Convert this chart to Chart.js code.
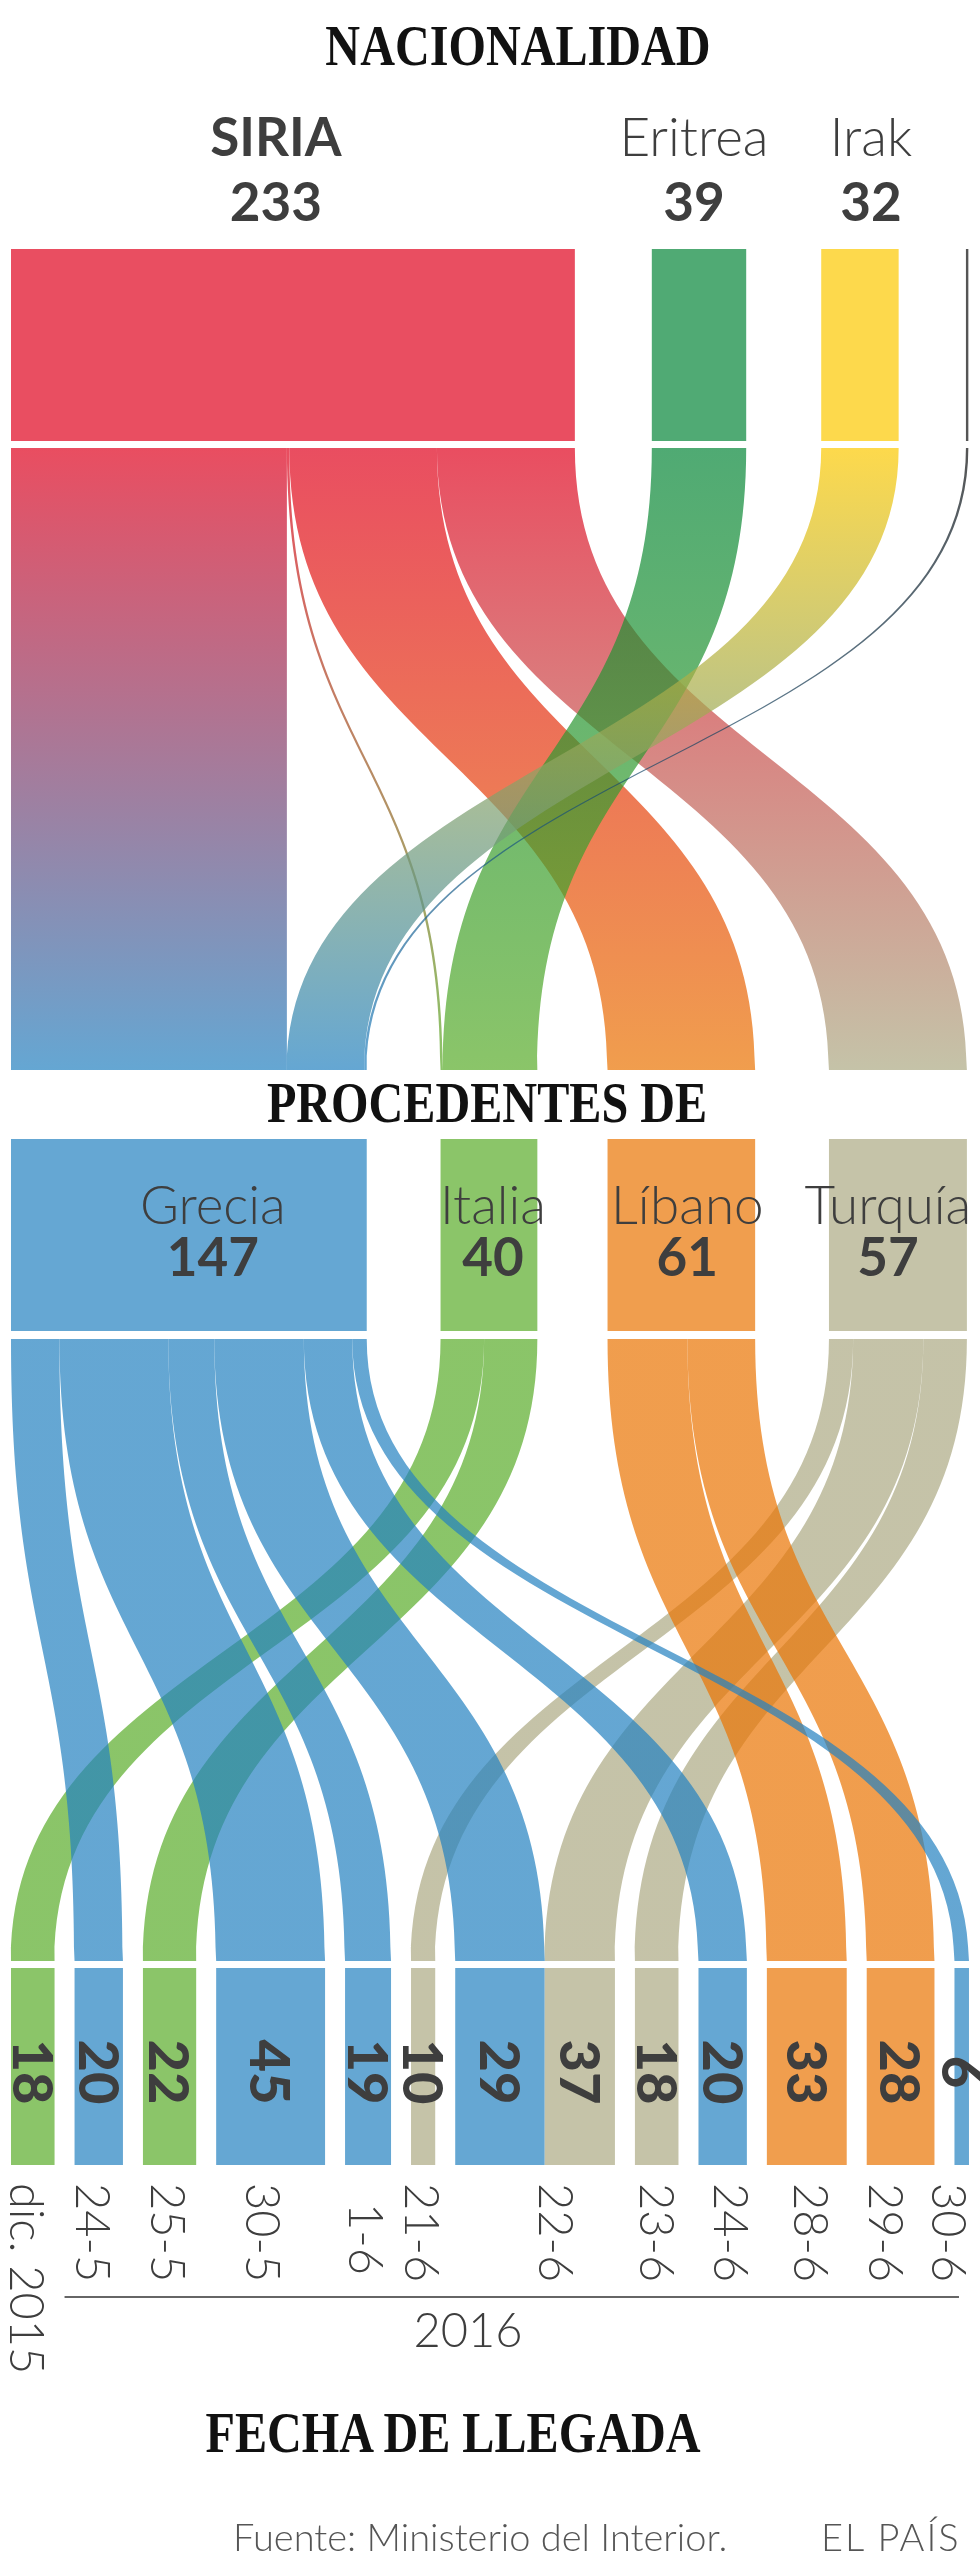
<!DOCTYPE html>
<html lang="es">
<head>
<meta charset="utf-8">
<title>Nacionalidad, procedencia y fecha de llegada</title>
<script src="https://cdn.jsdelivr.net/npm/chart.js@4.4.1/dist/chart.umd.min.js"></script>
<style>
  html, body { margin: 0; padding: 0; background: #fff; }
  #wrap { position: relative; width: 980px; height: 2576px; overflow: hidden; }
  #sankey { position: absolute; left: 0; top: 0; }
  .head {
    position: absolute; white-space: nowrap; line-height: 1;
    font-family: "Liberation Serif", "DejaVu Serif", serif; font-weight: bold;
    font-size: 56px; color: #111;
    transform: translate(-50%, -50%) scaleX(0.86);
  }
  .foot {
    position: absolute; white-space: nowrap; line-height: 1;
    font-family: Lato, "Open Sans", sans-serif; font-weight: 300;
    font-size: 38px; color: #555;
  }
</style>
</head>
<body>
<div id="wrap">
  <canvas id="sankey" width="980" height="2576"></canvas>
  <div class="head" style="left:518px; top:46px;">NACIONALIDAD</div>
  <div class="head" style="left:487px; top:1103px;">PROCEDENTES DE</div>
  <div class="head" style="left:453px; top:2433px;">FECHA DE LLEGADA</div>
  <div class="foot" style="left:233px; top:2517px;">Fuente: Ministerio del Interior.</div>
  <div class="foot" style="left:821px; top:2517px; letter-spacing:2px;">EL PAÍS</div>
</div>
<script>
// --- data ---
const nationalities = ["SIRIA", "Eritrea", "Irak", "Otros"];
const nationalityTotals = [233, 39, 32, 1];

const origins = ["Grecia", "Italia", "Líbano", "Turquía"];
const originTotals = [147, 40, 61, 57];

const arrivalDates = ["dic. 2015", "24-5", "25-5", "30-5", "1-6", "21-6", "22-6", "23-6", "24-6", "28-6", "29-6", "30-6"];

// nationality -> country they came from
const natFlowFrom = ["SIRIA", "SIRIA", "SIRIA", "SIRIA", "Eritrea", "Irak", "Otros"];
const natFlowTo = ["Grecia", "Italia", "Líbano", "Turquía", "Italia", "Grecia", "Grecia"];
const natFlowCount = [114, 1, 61, 57, 39, 32, 1];

// country they came from -> arrival date
const arrFlowFrom = ["Grecia", "Grecia", "Grecia", "Grecia", "Grecia", "Grecia", "Italia", "Italia", "Líbano", "Líbano", "Turquía", "Turquía", "Turquía"];
const arrFlowTo = ["24-5", "30-5", "1-6", "22-6", "24-6", "30-6", "dic. 2015", "25-5", "28-6", "29-6", "21-6", "22-6", "23-6"];
const arrFlowCount = [20, 45, 19, 37, 20, 6, 18, 22, 33, 28, 10, 29, 18];

// numbers as printed on the arrival bars, left to right
const arrivalPrinted = ["18", "20", "22", "45", "19", "10", "29", "37", "18", "20", "33", "28", "6"];

// --- layout / style ---
const UNIT_PX = 2.42;
const LEFT_PX = 11;
const topGaps = [0, 31.8, 31, 27.8];
const midGaps = [0, 30.5, 29, 30.5];
const dateGap = 8.26;

const rowTop = { center: 345, thick: 192 };
const rowMid = { center: 1235, thick: 192 };
const rowBot = { center: 2066.5, thick: 197 };
const topFlowY = [448, 1070];
const botFlowY = [1339, 1961];

const nationColors = ["#e94e61", "#50aa74", "#fdd94c", "#555555"];
const originColors = ["#65a7d3", "#8bc569", "#f09e4e", "#c5c3a8"];
const FLOW_ALPHA = 0.7;
const TEXT = "#3e3e3e";

const topLabelShift = [-17, -5, 11, 0];
const midLabelShift = [24, 4, 6, -10];
const dateLabelShift = [-6, -6, -2, -8, -2, -1, 21, 0, 8, 4, -15, -13];
const dateLabelDrop = [0, 0, 0, 0, 20, 0, 0, 0, 0, 0, 0, 0];

// color that gives the node color when laid over white at FLOW_ALPHA
function ink(hex) {
  const n = parseInt(hex.slice(1), 16);
  const ch = [(n >> 16) & 255, (n >> 8) & 255, n & 255].map(c =>
    Math.max(0, Math.min(255, Math.round((c - 255 * (1 - FLOW_ALPHA)) / FLOW_ALPHA))));
  return `rgba(${ch[0]},${ch[1]},${ch[2]},${FLOW_ALPHA})`;
}

function layoutNodes(totals, gaps) {
  let pos = 0;
  return totals.map((v, i) => {
    pos += gaps[i];
    const s = pos;
    pos += v;
    return [s, pos];
  });
}

const natSpan = layoutNodes(nationalityTotals, topGaps);
const originSpan = layoutNodes(originTotals, midGaps);

// arrival bars: one segment per flow, grouped by date, in origin order
const arrivalSegments = [];
let cursor = 0;
arrivalDates.forEach((d, di) => {
  if (di > 0) cursor += dateGap;
  origins.forEach((o, oi) => {
    arrFlowTo.forEach((t, fi) => {
      if (t === d && arrFlowFrom[fi] === o) {
        arrivalSegments.push({ dateIndex: di, originIndex: oi, start: cursor, end: cursor + arrFlowCount[fi] });
        cursor += arrFlowCount[fi];
      }
    });
  });
});
const dateSpan = arrivalDates.map((d, di) => {
  const segs = arrivalSegments.filter(s => s.dateIndex === di);
  return [segs[0].start, segs[segs.length - 1].end];
});

function linkEnds(from, to, count, srcNames, srcSpan, dstNames, dstSpan) {
  const ends = from.map(() => ({}));
  srcNames.forEach((s, si) => {
    let p = srcSpan[si][0];
    dstNames.forEach(d => from.forEach((f, i) => {
      if (f === s && to[i] === d) { ends[i].s = [p, p + count[i]]; p += count[i]; }
    }));
  });
  dstNames.forEach((d, di) => {
    let p = dstSpan[di][0];
    srcNames.forEach(s => from.forEach((f, i) => {
      if (f === s && to[i] === d) { ends[i].t = [p, p + count[i]]; p += count[i]; }
    }));
  });
  return ends;
}

const natLinks = linkEnds(natFlowFrom, natFlowTo, natFlowCount, nationalities, natSpan, origins, originSpan);
const arrLinks = linkEnds(arrFlowFrom, arrFlowTo, arrFlowCount, origins, originSpan, arrivalDates, dateSpan);

function drawFlow(ctx, x, y, ends, y0, y1, c0, c1) {
  const a0 = x.getPixelForValue(ends.s[0]), b0 = x.getPixelForValue(ends.s[1]);
  const a1 = x.getPixelForValue(ends.t[0]), b1 = x.getPixelForValue(ends.t[1]);
  const p0 = y.getPixelForValue(y0), p1 = y.getPixelForValue(y1);
  const pm = (p0 + p1) / 2;
  const g = ctx.createLinearGradient(0, p0, 0, p1);
  g.addColorStop(0, ink(c0));
  g.addColorStop(1, ink(c1));
  ctx.fillStyle = g;
  ctx.beginPath();
  ctx.moveTo(a0, p0);
  ctx.bezierCurveTo(a0, pm, a1, pm, a1, p1);
  ctx.lineTo(b1, p1);
  ctx.bezierCurveTo(b1, pm, b0, pm, b0, p0);
  ctx.closePath();
  ctx.fill();
}

function hText(ctx, str, x, y, font) {
  ctx.font = font;
  ctx.textAlign = "center";
  ctx.textBaseline = "alphabetic";
  ctx.fillText(str, x, y);
}

// text rotated a quarter turn clockwise, cx is the visual centre of the glyphs
function vText(ctx, str, cx, y, size, font, align) {
  ctx.save();
  ctx.translate(cx - size * 0.36, y);
  ctx.rotate(Math.PI / 2);
  ctx.font = font;
  ctx.textAlign = align;
  ctx.textBaseline = "alphabetic";
  ctx.fillText(str, 0, 0);
  ctx.restore();
}

const sankeyPlugin = {
  id: "sankeyFlows",
  beforeDatasetsDraw(chart) {
    const { ctx, scales: { x, y } } = chart;
    ctx.save();
    natLinks.forEach((e, i) => {
      const c0 = nationColors[nationalities.indexOf(natFlowFrom[i])];
      const c1 = originColors[origins.indexOf(natFlowTo[i])];
      drawFlow(ctx, x, y, e, topFlowY[0], topFlowY[1], c0, c1);
    });
    for (let i = arrLinks.length - 1; i >= 0; i--) {
      const c = originColors[origins.indexOf(arrFlowFrom[i])];
      drawFlow(ctx, x, y, arrLinks[i], botFlowY[0], botFlowY[1], c, c);
    }
    ctx.restore();
  },
  afterDatasetsDraw(chart) {
    const { ctx, scales: { x, y } } = chart;
    ctx.save();
    ctx.fillStyle = TEXT;
    const mid = sp => (x.getPixelForValue(sp[0]) + x.getPixelForValue(sp[1])) / 2;

    nationalities.forEach((n, i) => {
      if (nationalityTotals[i] < 5) return;
      const cx = mid(natSpan[i]) + topLabelShift[i];
      hText(ctx, n, cx, y.getPixelForValue(156), (i === 0 ? "bold " : "300 ") + "53px Lato, sans-serif");
      hText(ctx, String(nationalityTotals[i]), cx, y.getPixelForValue(221), "bold 53px Lato, sans-serif");
    });

    origins.forEach((o, i) => {
      const cx = mid(originSpan[i]) + midLabelShift[i];
      hText(ctx, o, cx, y.getPixelForValue(1224), "300 53px Lato, sans-serif");
      hText(ctx, String(originTotals[i]), cx, y.getPixelForValue(1276), "bold 53px Lato, sans-serif");
    });

    arrivalSegments.forEach((s, i) => {
      vText(ctx, arrivalPrinted[i], mid([s.start, s.end]), y.getPixelForValue(2072), 56, "900 56px Lato, sans-serif", "center");
    });

    arrivalDates.forEach((d, i) => {
      vText(ctx, d, mid(dateSpan[i]) + dateLabelShift[i], y.getPixelForValue(2183 + dateLabelDrop[i]), 47, "300 47px Lato, sans-serif", "left");
    });

    // year bracket under the 2016 dates
    ctx.strokeStyle = "#666";
    ctx.lineWidth = 2;
    ctx.beginPath();
    ctx.moveTo(x.getPixelForValue(dateSpan[1][0]) - 10, y.getPixelForValue(2297));
    ctx.lineTo(x.getPixelForValue(dateSpan[11][1]) - 10, y.getPixelForValue(2297));
    ctx.stroke();
    hText(ctx, "2016", 468, y.getPixelForValue(2347), "300 47px Lato, sans-serif");
    ctx.restore();
  }
};

const barSet = (data, colors, thick) => ({
  data: data,
  backgroundColor: colors,
  borderWidth: 0,
  barThickness: thick,
  grouped: false,
  inflateAmount: 0
});

new Chart(document.getElementById("sankey"), {
  type: "bar",
  data: {
    datasets: [
      barSet(natSpan.map(sp => ({ x: sp, y: rowTop.center })), nationColors, rowTop.thick),
      barSet(originSpan.map(sp => ({ x: sp, y: rowMid.center })), originColors, rowMid.thick),
      barSet(arrivalSegments.map(s => ({ x: [s.start, s.end], y: rowBot.center })),
        arrivalSegments.map(s => originColors[s.originIndex]), rowBot.thick)
    ]
  },
  options: {
    indexAxis: "y",
    responsive: false,
    animation: false,
    layout: { padding: 0 },
    plugins: { legend: { display: false }, tooltip: { enabled: false } },
    scales: {
      x: { type: "linear", min: -LEFT_PX / UNIT_PX, max: (980 - LEFT_PX) / UNIT_PX, offset: false, display: false },
      y: { type: "linear", min: 0, max: 2576, reverse: true, offset: false, display: false }
    }
  },
  plugins: [sankeyPlugin]
});
</script>
</body>
</html>
